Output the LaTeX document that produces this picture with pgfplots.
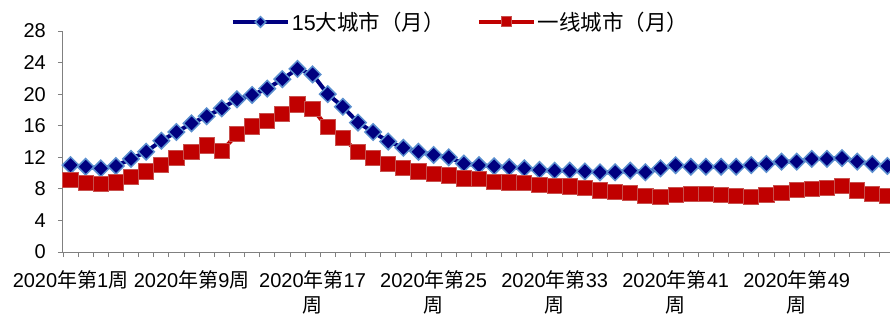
\documentclass[border=0pt]{standalone}
\usepackage{fontspec}
\setmainfont{Liberation Sans}
\newfontfamily\cjk{Noto Sans CJK SC}
\usepackage{pgfplots}
\pgfplotsset{compat=1.18}
\definecolor{navyb}{HTML}{000080}
\definecolor{edgeb}{HTML}{5B8FCF}
\definecolor{redf}{HTML}{C00000}
\definecolor{edger}{HTML}{C8504D}
\definecolor{axgray}{HTML}{808080}
\begin{document}
\begin{tikzpicture}
\useasboundingbox (-63bp,-64bp) rectangle (827bp,252bp);
\begin{axis}[
  at={(0,0)}, anchor=south west,
  scale only axis, width=832bp, height=221bp,
  xmin=-0.5, xmax=54.5, ymin=0, ymax=28,
  axis x line*=bottom, axis y line*=left,
  axis line style={-, draw=axgray, line width=1bp},
  tick align=outside,
  major tick length=5bp,
  tick style={draw=axgray, line width=0.8bp},
  xtick={-0.5,0.5,...,54.5}, xticklabels={},
  extra x ticks={0,8,16,24,32,40,48},
  extra x tick labels={2020{\cjk 年第}1{\cjk 周},2020{\cjk 年第}9{\cjk 周},2020{\cjk 年第}17\\{\cjk 周},2020{\cjk 年第}25\\{\cjk 周},2020{\cjk 年第}33\\{\cjk 周},2020{\cjk 年第}41\\{\cjk 周},2020{\cjk 年第}49\\{\cjk 周}},
  extra x tick style={major tick length=0pt},
  ytick={0,4,...,28},
  /pgf/number format/assume math mode=true,
  ticklabel style={font=\fontsize{20bp}{25bp}\selectfont},
  xticklabel style={align=center, inner sep=0pt, yshift=-18bp},
  yticklabel style={inner sep=0pt, xshift=-12bp},
  legend columns=2,
  legend style={at={(axis description cs:0.478,1.041)}, anchor=center, draw=none, fill=none,
    font=\fontsize{21.5bp}{24bp}\selectfont,
    /tikz/every even column/.append style={column sep=30bp}},
  legend image code/.code={\draw[#1, mark repeat=2, mark phase=2, every mark/.append style={scale=0.65}] plot coordinates {(0bp,0bp) (27.5bp,0bp) (55bp,0bp)};},
]
\addplot[navyb, line width=4bp, mark=square*, mark size=5.8bp,
  mark options={rotate=45, fill=navyb, draw=edgeb, line width=1.5bp}] coordinates {
(0,11.0) (1,10.8) (2,10.6) (3,10.9) (4,11.8) (5,12.7) (6,14.1) (7,15.2) (8,16.3) (9,17.2)
(10,18.2) (11,19.35) (12,19.9) (13,20.7) (14,21.9) (15,23.2) (16,22.5) (17,20.0) (18,18.4) (19,16.4)
(20,15.2) (21,14.0) (22,13.2) (23,12.7) (24,12.3) (25,12.0) (26,11.2) (27,11.0) (28,10.85) (29,10.75)
(30,10.6) (31,10.4) (32,10.3) (33,10.3) (34,10.2) (35,10.1) (36,10.1) (37,10.3) (38,10.1) (39,10.6)
(40,11.0) (41,10.8) (42,10.8) (43,10.8) (44,10.8) (45,11.0) (46,11.15) (47,11.45) (48,11.45) (49,11.8)
(50,11.8) (51,11.9) (52,11.45) (53,11.15) (54,10.9)
};
\addlegendentry{15{\cjk 大城市（月）}}
\addplot[redf, line width=4bp, mark=square*, mark size=7.6bp,
  mark options={fill=redf, draw=edger, line width=1bp}] coordinates {
(0,9.1) (1,8.7) (2,8.6) (3,8.8) (4,9.5) (5,10.2) (6,11.0) (7,11.9) (8,12.7) (9,13.5)
(10,12.8) (11,14.9) (12,15.9) (13,16.6) (14,17.5) (15,18.7) (16,18.1) (17,15.8) (18,14.4) (19,12.7)
(20,11.9) (21,11.15) (22,10.6) (23,10.2) (24,9.9) (25,9.7) (26,9.3) (27,9.2) (28,8.9) (29,8.8)
(30,8.7) (31,8.5) (32,8.4) (33,8.3) (34,8.1) (35,7.8) (36,7.65) (37,7.45) (38,7.1) (39,6.95)
(40,7.2) (41,7.35) (42,7.35) (43,7.2) (44,7.1) (45,7.0) (46,7.2) (47,7.45) (48,7.85) (49,7.95)
(50,8.1) (51,8.35) (52,7.8) (53,7.35) (54,7.1)
};
\addlegendentry{{\cjk 一线城市（月）}}
\end{axis}
\end{tikzpicture}
\end{document}
